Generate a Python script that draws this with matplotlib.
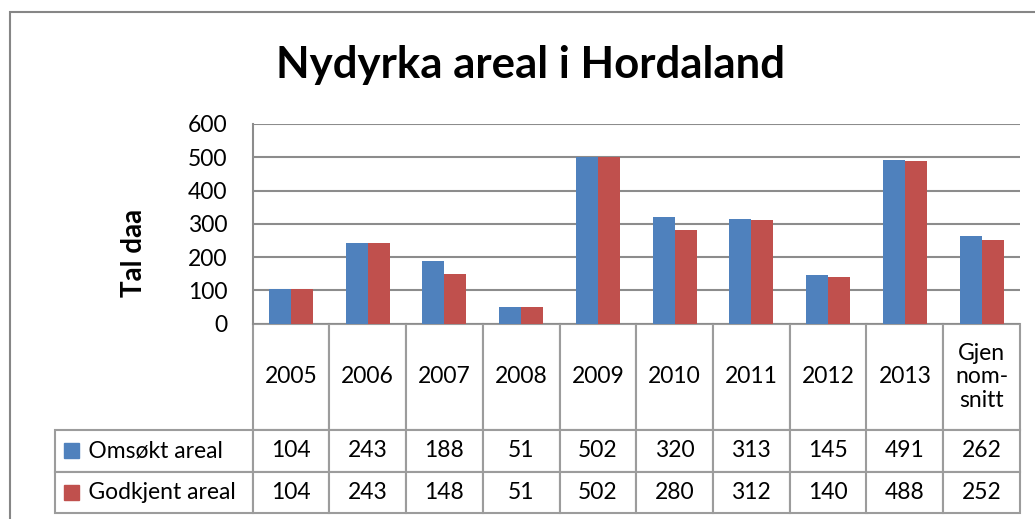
import numpy as np
import matplotlib
matplotlib.use("Agg")
import matplotlib.pyplot as plt
from matplotlib.patches import Rectangle
from matplotlib.table import Table

plt.rcParams['font.family'] = ['Lato', 'DejaVu Sans']

categories = ['2005', '2006', '2007', '2008', '2009', '2010', '2011', '2012', '2013', 'Gjen\nnom-\nsnitt']
omsokt = [104, 243, 188, 51, 502, 320, 313, 145, 491, 262]
godkjent = [104, 243, 148, 51, 502, 280, 312, 140, 488, 252]
series_names = ['Omsøkt areal', 'Godkjent areal']
colors = ['#4F81BD', '#C0504D']
yticks = [0, 100, 200, 300, 400, 500, 600]

W, H = 1035, 519
fig = plt.figure(figsize=(W / 100, H / 100), dpi=100)

# outer chart frame
fig.add_artist(Rectangle((10 / W, -0.05), 1.2, (H - 12) / H + 0.05, transform=fig.transFigure,
                         fill=False, edgecolor='#868686', linewidth=1.5))

fig.text(530 / W, 1 - 65 / H, 'Nydyrka areal i Hordaland', ha='center', va='center',
         fontsize=31.5, fontweight='bold')

ax_l, ax_r, ax_t, ax_b = 252.5, 1020, 124, 323.5
ax = fig.add_axes([ax_l / W, 1 - ax_b / H, (ax_r - ax_l) / W, (ax_b - ax_t) / H])

n = len(categories)
x = np.arange(n)
bw = 1 / 3.5
ax.bar(x - bw / 2, omsokt, bw, color=colors[0], zorder=3)
ax.bar(x + bw / 2, godkjent, bw, color=colors[1], zorder=3)

fs = 16.5
ax.set_xlim(-0.5, n - 0.5)
ax.set_ylim(0, 600)
ax.set_yticks(yticks)
ax.tick_params(axis='y', length=0, pad=18, labelsize=fs)
ax.set_xticks([])
ax.grid(axis='y', color='#8C8C8C', linewidth=1.5, zorder=0)
for s in ['top', 'right', 'bottom']:
    ax.spines[s].set_visible(False)
ax.spines['left'].set_color('#8C8C8C')
ax.spines['left'].set_linewidth(1.5)
ax.set_ylabel('Tal daa', fontsize=20, fontweight='bold')
ax.yaxis.set_label_coords(-0.137, 0.353)

# data table under the plot
px_w = ax_r - ax_l
px_h = ax_b - ax_t
col_w = 1 / n
head_h = (430 - ax_b) / px_h
row_h = 41.5 / px_h
lab_w = (ax_l - 55) / px_w
edge = '#9C9C9C'

tab = Table(ax, loc=None)
for j, c in enumerate(categories):
    cell = tab.add_cell(0, j, width=col_w, height=head_h, text=c, loc='center')
    cell.set_edgecolor(edge)
    cell.set_linewidth(1.5)
    cell.get_text().set_fontsize(fs)
    cell.get_text().set_linespacing(1.15)
for i, vals in enumerate([omsokt, godkjent]):
    cell = tab.add_cell(i + 1, -1, width=lab_w, height=row_h, text='     ' + series_names[i], loc='left')
    cell.set_edgecolor(edge)
    cell.set_linewidth(1.5)
    cell.get_text().set_fontsize(fs)
    cell.PAD = 0.02
    for j, v in enumerate(vals):
        cell = tab.add_cell(i + 1, j, width=col_w, height=row_h, text=str(v), loc='center')
        cell.set_edgecolor(edge)
        cell.set_linewidth(1.5)
        cell.get_text().set_fontsize(fs)
tab.auto_set_font_size(False)
tab.set_clip_on(False)
ax.add_table(tab)
# position cells explicitly in axes coordinates
for (r, c), cell in tab.get_celld().items():
    if r == 0:
        cell.set_xy((c * col_w, -head_h))
    elif c == -1:
        cell.set_xy((-lab_w, -head_h - r * row_h))
    else:
        cell.set_xy((c * col_w, -head_h - r * row_h))
tab._update_positions = lambda renderer: None

# legend keys
sq_w = 15 / px_w
sq_h = 15 / px_h
for i in range(2):
    yc = -head_h - (i + 0.5) * row_h
    ax.add_patch(Rectangle((-lab_w + 9 / px_w, yc - sq_h / 2), sq_w, sq_h, transform=ax.transAxes,
                           color=colors[i], clip_on=False))

fig.savefig('out.png', dpi=100)
